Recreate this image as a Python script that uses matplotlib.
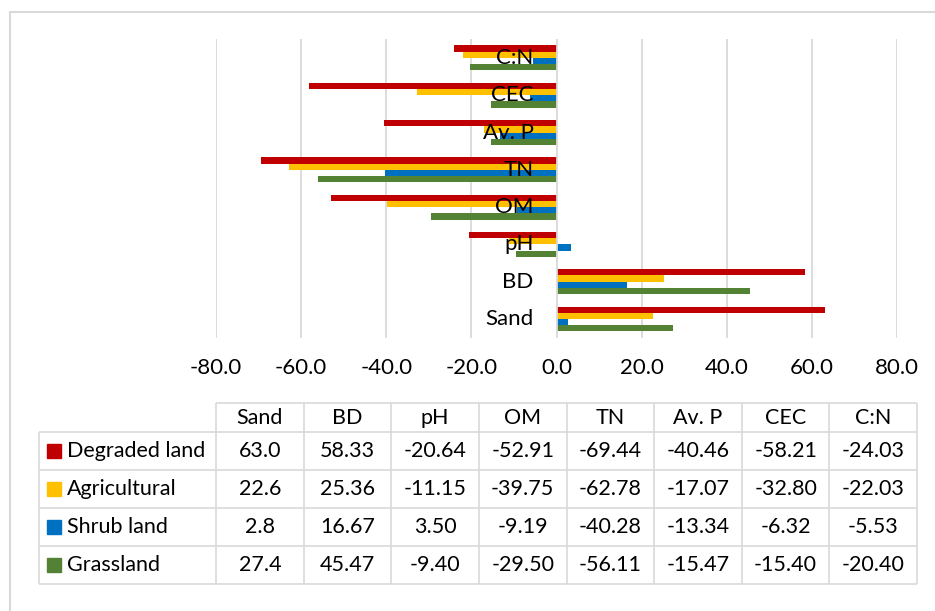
import matplotlib
matplotlib.use("Agg")
import matplotlib.pyplot as plt
from matplotlib.lines import Line2D
from matplotlib.patches import Rectangle
import matplotlib.transforms as mtransforms
from matplotlib import font_manager

categories = ["Sand", "BD", "pH", "OM", "TN", "Av. P", "CEC", "C:N"]
series_names = ["Degraded land", "Agricultural", "Shrub land", "Grassland"]
degraded = [63.0, 58.33, -20.64, -52.91, -69.44, -40.46, -58.21, -24.03]
agricultural = [22.6, 25.36, -11.15, -39.75, -62.78, -17.07, -32.80, -22.03]
shrub = [2.8, 16.67, 3.50, -9.19, -40.28, -13.34, -6.32, -5.53]
grassland = [27.4, 45.47, -9.40, -29.50, -56.11, -15.47, -15.40, -20.40]
decimals = [1, 2, 2, 2, 2, 2, 2, 2]
xticks = [-80, -60, -40, -20, 0, 20, 40, 60, 80]

series = [degraded, agricultural, shrub, grassland]
colors = ["#C00000", "#FFC000", "#0070C0", "#548235"]

W, H = 935, 611
fig = plt.figure(figsize=(W / 100, H / 100), dpi=100)
FONT = "Lato"
plt.rcParams["font.family"] = [FONT, "DejaVu Sans"]

names = {f.name for f in font_manager.fontManager.ttflist}
TICKFONT = "Liberation Sans Narrow" if "Liberation Sans Narrow" in names else FONT
TICKSIZE = 18 if TICKFONT != FONT else 16
TXT = 15.5


def fx(x):
    return x / W


def fy(y):
    return 1 - y / H


def hline(x0, x1, y, color="#D9D9D9", lw=1.2):
    fig.add_artist(Line2D([fx(x0), fx(x1)], [fy(y), fy(y)], color=color, lw=lw,
                          transform=fig.transFigure, solid_capstyle="butt"))


def vline(x, y0, y1, color="#D9D9D9", lw=1.2):
    fig.add_artist(Line2D([fx(x), fx(x)], [fy(y0), fy(y1)], color=color, lw=lw,
                          transform=fig.transFigure, solid_capstyle="butt"))


# chart border
hline(9, W, 11.5, lw=1.5)
vline(9.5, 11, H, lw=1.5)

# bar chart
left, right, top, bottom = 216, 897, 39.3, 337.6
ax = fig.add_axes([fx(left), fy(bottom), fx(right - left), (bottom - top) / H])
n = len(categories)
h = 0.167
offsets = [1.5 * h, 0.5 * h, -0.5 * h, -1.5 * h]
for vals, col, off in zip(series, colors, offsets):
    ax.barh([i + off for i in range(n)], vals, height=h, color=col, zorder=2)

ax.set_xlim(-80, 80)
ax.set_ylim(-0.5, n - 0.5)
ax.set_xticks(xticks)
ax.set_xticklabels([f"{v:.1f}" for v in xticks], fontsize=TICKSIZE,
                   fontfamily=[TICKFONT, "DejaVu Sans"], color="black")
ax.tick_params(axis="x", length=0, pad=15)
ax.set_yticks([])
for s in ax.spines.values():
    s.set_visible(False)
for v in xticks:
    ax.axvline(v, color="#D9D9D9", lw=1.3, zorder=1 if v != 0 else 3)

off_tr = mtransforms.offset_copy(ax.transData, fig=fig, x=-23, y=0, units="dots")
for i, c in enumerate(categories):
    ax.text(0, i, c, transform=off_tr, ha="right", va="center", fontsize=16,
            color="black", zorder=4)

# data table
tl, tr = 39, 917
colx = [216 + k * (tr - 216) / n for k in range(n + 1)]
ry = [403, 432, 470, 508, 546, 584]
hline(216, tr, ry[0])
for k in range(1, len(ry)):
    hline(tl, tr, ry[k])
for x in colx:
    vline(x, ry[0], ry[-1])
vline(tl, ry[1], ry[-1])

for k, c in enumerate(categories):
    cx = (colx[k] + colx[k + 1]) / 2
    fig.text(fx(cx), fy((ry[0] + ry[1]) / 2), c, ha="center", va="center",
             fontsize=TXT, color="black")

for r, (name, vals, col) in enumerate(zip(series_names, series, colors)):
    yc = (ry[r + 1] + ry[r + 2]) / 2
    fig.add_artist(Rectangle((fx(47), fy(yc + 7)), 14 / W, 14 / H, color=col,
                             transform=fig.transFigure))
    fig.text(fx(67), fy(yc), name, ha="left", va="center", fontsize=TXT, color="black")
    for k, v in enumerate(vals):
        cx = (colx[k] + colx[k + 1]) / 2
        fig.text(fx(cx), fy(yc), f"{v:.{decimals[k]}f}", ha="center", va="center",
                 fontsize=TXT, color="black")

fig.savefig("out.png", dpi=100, facecolor="white")
